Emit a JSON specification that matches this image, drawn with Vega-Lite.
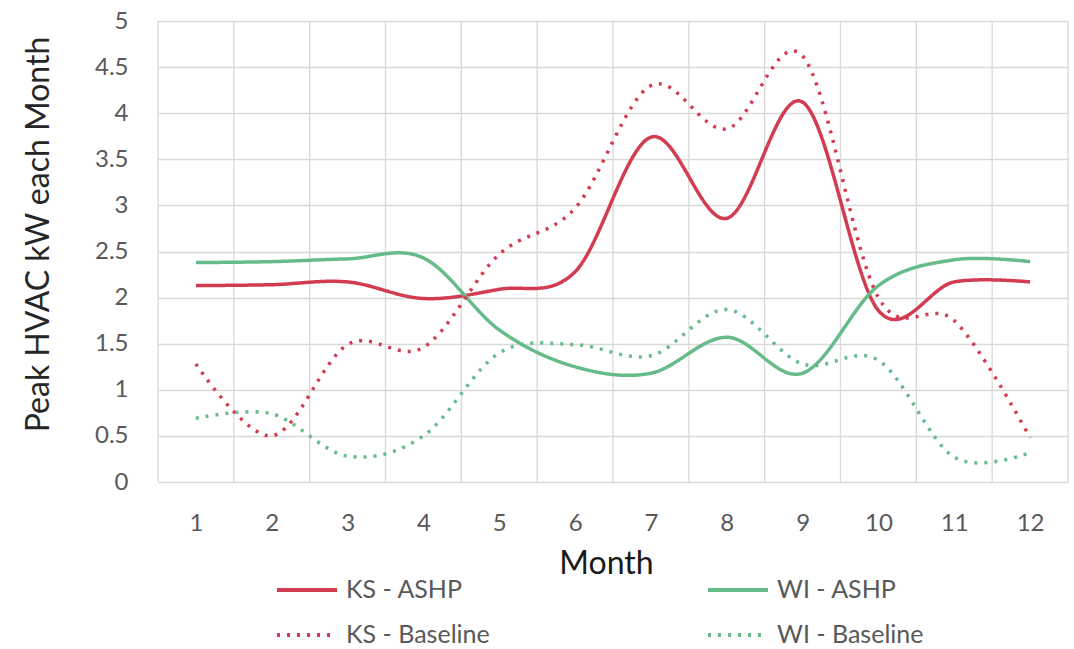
{
  "$schema": "https://vega.github.io/schema/vega-lite/v6.json",
  "width": 910,
  "height": 461,
  "autosize": {"type": "none"},
  "padding": {"left": 158, "top": 21, "right": 6, "bottom": 167},
  "background": "white",
  "config": {"view": {"stroke": null}, "font": "Lato"},
  "datasets": {
    "peaks": [
      {"month": 1, "series": "KS - ASHP", "kw": 2.13},
      {"month": 2, "series": "KS - ASHP", "kw": 2.14},
      {"month": 3, "series": "KS - ASHP", "kw": 2.17},
      {"month": 4, "series": "KS - ASHP", "kw": 1.99},
      {"month": 5, "series": "KS - ASHP", "kw": 2.09},
      {"month": 6, "series": "KS - ASHP", "kw": 2.28},
      {"month": 7, "series": "KS - ASHP", "kw": 3.74},
      {"month": 8, "series": "KS - ASHP", "kw": 2.86},
      {"month": 9, "series": "KS - ASHP", "kw": 4.12},
      {"month": 10, "series": "KS - ASHP", "kw": 1.86},
      {"month": 11, "series": "KS - ASHP", "kw": 2.17},
      {"month": 12, "series": "KS - ASHP", "kw": 2.17},
      {"month": 1, "series": "WI - ASHP", "kw": 2.38},
      {"month": 2, "series": "WI - ASHP", "kw": 2.39},
      {"month": 3, "series": "WI - ASHP", "kw": 2.42},
      {"month": 4, "series": "WI - ASHP", "kw": 2.43},
      {"month": 5, "series": "WI - ASHP", "kw": 1.65},
      {"month": 6, "series": "WI - ASHP", "kw": 1.25},
      {"month": 7, "series": "WI - ASHP", "kw": 1.18},
      {"month": 8, "series": "WI - ASHP", "kw": 1.57},
      {"month": 9, "series": "WI - ASHP", "kw": 1.18},
      {"month": 10, "series": "WI - ASHP", "kw": 2.13},
      {"month": 11, "series": "WI - ASHP", "kw": 2.41},
      {"month": 12, "series": "WI - ASHP", "kw": 2.39},
      {"month": 1, "series": "KS - Baseline", "kw": 1.28},
      {"month": 2, "series": "KS - Baseline", "kw": 0.5},
      {"month": 3, "series": "KS - Baseline", "kw": 1.49},
      {"month": 4, "series": "KS - Baseline", "kw": 1.46},
      {"month": 5, "series": "KS - Baseline", "kw": 2.47},
      {"month": 6, "series": "KS - Baseline", "kw": 2.97},
      {"month": 7, "series": "KS - Baseline", "kw": 4.3},
      {"month": 8, "series": "KS - Baseline", "kw": 3.83},
      {"month": 9, "series": "KS - Baseline", "kw": 4.62},
      {"month": 10, "series": "KS - Baseline", "kw": 2.0},
      {"month": 11, "series": "KS - Baseline", "kw": 1.75},
      {"month": 12, "series": "KS - Baseline", "kw": 0.48},
      {"month": 1, "series": "WI - Baseline", "kw": 0.69},
      {"month": 2, "series": "WI - Baseline", "kw": 0.74},
      {"month": 3, "series": "WI - Baseline", "kw": 0.28},
      {"month": 4, "series": "WI - Baseline", "kw": 0.5},
      {"month": 5, "series": "WI - Baseline", "kw": 1.4},
      {"month": 6, "series": "WI - Baseline", "kw": 1.49},
      {"month": 7, "series": "WI - Baseline", "kw": 1.37},
      {"month": 8, "series": "WI - Baseline", "kw": 1.87},
      {"month": 9, "series": "WI - Baseline", "kw": 1.28},
      {"month": 10, "series": "WI - Baseline", "kw": 1.32},
      {"month": 11, "series": "WI - Baseline", "kw": 0.27},
      {"month": 12, "series": "WI - Baseline", "kw": 0.32}
    ],
    "gridlines": [
      {"edge": 0.5}, {"edge": 1.5}, {"edge": 2.5}, {"edge": 3.5}, {"edge": 4.5},
      {"edge": 5.5}, {"edge": 6.5}, {"edge": 7.5}, {"edge": 8.5}, {"edge": 9.5},
      {"edge": 10.5}, {"edge": 11.5}, {"edge": 12.5}
    ]
  },
  "layer": [
    {
      "data": {"name": "gridlines"},
      "mark": {"type": "rule", "color": "#D9D9D9", "strokeWidth": 1.3},
      "encoding": {
        "x": {
          "field": "edge", "type": "quantitative", "title": "Month",
          "scale": {"domain": [0.5, 12.5], "nice": false, "zero": false},
          "axis": {
            "values": [1, 2, 3, 4, 5, 6, 7, 8, 9, 10, 11, 12], "format": "d",
            "title": "Month", "grid": false, "ticks": false, "domain": false,
            "labelFontSize": 24, "labelColor": "#595959", "labelPadding": 29,
            "titleFontSize": 32, "titleFontWeight": "normal", "titleColor": "#1a1a1a",
            "titleX": 448, "titleY": 81, "titleBaseline": "middle"
          }
        }
      }
    },
    {
      "data": {"name": "peaks"},
      "mark": {"type": "line", "interpolate": "cardinal", "strokeWidth": 3.5, "strokeCap": "butt"},
      "encoding": {
        "x": {
          "field": "month", "type": "quantitative", "title": "Month",
          "scale": {"domain": [0.5, 12.5], "nice": false, "zero": false},
          "axis": {
            "values": [1, 2, 3, 4, 5, 6, 7, 8, 9, 10, 11, 12], "format": "d",
            "title": "Month", "grid": false, "ticks": false, "domain": false,
            "labelFontSize": 24, "labelColor": "#595959", "labelPadding": 29,
            "titleFontSize": 32, "titleFontWeight": "normal", "titleColor": "#1a1a1a",
            "titleX": 448, "titleY": 81, "titleBaseline": "middle"
          }
        },
        "y": {
          "field": "kw", "type": "quantitative",
          "scale": {"domain": [0, 5], "nice": false},
          "axis": {
            "values": [0, 0.5, 1, 1.5, 2, 2.5, 3, 3.5, 4, 4.5, 5], "format": "~g",
            "title": "Peak HVAC kW each Month", "grid": true, "gridColor": "#D9D9D9", "gridWidth": 1.3,
            "ticks": false, "domain": false,
            "labelFontSize": 24, "labelColor": "#595959", "labelPadding": 30,
            "titleFontSize": 32, "titleFontWeight": "normal", "titleColor": "#262626",
            "titleX": -120, "titleY": 213, "titleBaseline": "middle", "titleAlign": "center"
          }
        },
        "color": {
          "field": "series", "type": "nominal",
          "scale": {"domain": ["KS - ASHP", "WI - ASHP", "KS - Baseline", "WI - Baseline"], "range": ["#D23B50", "#66BB8A", "#D23B50", "#66BB8A"]},
          "legend": {
            "orient": "none", "legendX": 117, "legendY": 537, "columns": 2, "title": null,
            "values": ["KS - ASHP", "KS - Baseline", "WI - ASHP", "WI - Baseline"],
            "symbolType": "stroke", "symbolSize": 3600, "symbolStrokeWidth": 4,
            "labelFontSize": 25, "labelColor": "#595959", "labelOffset": 7,
            "columnPadding": 210, "rowPadding": -14
          }
        },
        "strokeDash": {
          "field": "series", "type": "nominal",
          "scale": {"domain": ["KS - ASHP", "WI - ASHP", "KS - Baseline", "WI - Baseline"], "range": [[1, 0], [1, 0], [3, 7], [3, 7]]},
          "legend": {
            "orient": "none", "legendX": 117, "legendY": 537, "columns": 2, "title": null,
            "values": ["KS - ASHP", "KS - Baseline", "WI - ASHP", "WI - Baseline"],
            "symbolType": "stroke", "symbolSize": 3600, "symbolStrokeWidth": 4,
            "labelFontSize": 25, "labelColor": "#595959", "labelOffset": 7,
            "columnPadding": 210, "rowPadding": -14
          }
        }
      }
    }
  ]
}
